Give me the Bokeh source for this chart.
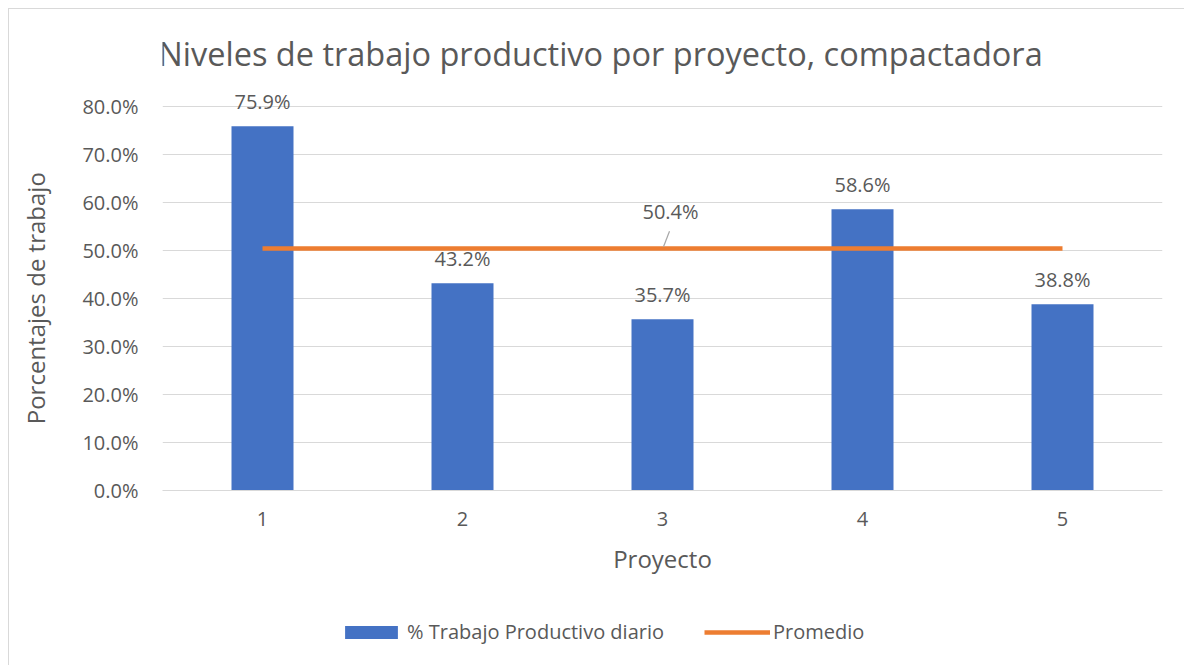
import math
from bokeh.plotting import figure
from bokeh.layouts import column, row
from bokeh.models import (Range1d, NumeralTickFormatter, FixedTicker, ColumnDataSource,
                          LabelSet, Label, Legend, LegendItem, Segment)
from bokeh.core.properties import value
from bokeh.embed import file_html
from bokeh.resources import INLINE

# ---- data ----
proyectos = [1, 2, 3, 4, 5]
tick_labels = ["1", "2", "3", "4", "5"]
trabajo_productivo = [0.759, 0.432, 0.357, 0.586, 0.388]
promedio = [0.504, 0.504, 0.504, 0.504, 0.504]
y_ticks = [0.0, 0.1, 0.2, 0.3, 0.4, 0.5, 0.6, 0.7, 0.8]

title_text = "Niveles de trabajo productivo por proyecto, compactadora"
x_label = "Proyecto"
y_label = "Porcentajes de trabajo"
legend_bar = "% Trabajo Productivo diario"
legend_line = "Promedio"

FONT = "Open Sans"
TXT = "#595959"
BLUE = "#4472C4"
ORANGE = "#ED7D31"
GRID = "#D9D9D9"

# whole block starts at page (9, 9) because of margin + border
TOTAL_W = 1175
LW = 60            # strip holding the y-axis title
W, H = TOTAL_W - LW, 591

# ---- y-axis title strip ----
yl = figure(width=LW, height=H, output_backend="svg", toolbar_location=None,
            x_range=Range1d(0, 1), y_range=Range1d(0, 1))
yl.min_border = 0
yl.axis.visible = False
yl.grid.visible = False
yl.outline_line_color = None
yl.border_fill_color = "white"
yl.add_layout(Label(x=0.433, y=0.511, y_offset=-53, text=y_label, angle=math.pi / 2,
                    text_align="center", text_baseline="middle",
                    text_font=FONT, text_font_size="24px", text_color=TXT))

# ---- main chart ----
p = figure(width=W, height=H, output_backend="svg", toolbar_location=None,
           x_range=Range1d(0.5, 5.5), y_range=Range1d(0, 1.0))
p.min_border_left = 162 - 9 - LW
p.min_border_top = 1
p.min_border_right = 22
p.min_border_bottom = H - 481
p.outline_line_color = None
p.background_fill_color = "white"
p.border_fill_color = "white"

src = ColumnDataSource(dict(x=proyectos, top=trabajo_productivo,
                            lbl=[f"{v*100:.1f}%" for v in trabajo_productivo]))
bars = p.vbar(x="x", top="top", width=0.31, bottom=0, source=src,
              fill_color=BLUE, line_color=None)
line = p.line(proyectos, promedio, line_color=ORANGE, line_width=4.5)

labels = LabelSet(x="x", y="top", text="lbl", source=src, y_offset=25,
                  text_align="center", text_baseline="middle",
                  text_font=value(FONT), text_font_size=value("20px"), text_color=TXT)
p.add_layout(labels)

# average data label with leader line
avg = promedio[2]
p.add_layout(Label(x=proyectos[2], y=avg, text=f"{avg*100:.1f}%", x_offset=8, y_offset=37,
                   text_align="center", text_baseline="middle",
                   text_font=FONT, text_font_size="20px", text_color=TXT))
lead_src = ColumnDataSource(dict(x0=[proyectos[2] + 0.005], y0=[avg + 0.004],
                                 x1=[proyectos[2] + 0.035], y1=[avg + 0.036]))
p.add_glyph(lead_src, Segment(x0="x0", y0="y0", x1="x1", y1="y1",
                              line_color="#A6A6A6", line_width=1.2))

# axes
p.xaxis.ticker = FixedTicker(ticks=proyectos)
p.xaxis.major_label_overrides = {i: t for i, t in zip(proyectos, tick_labels)}
p.yaxis.ticker = FixedTicker(ticks=y_ticks)
p.yaxis.formatter = NumeralTickFormatter(format="0.0%")
for ax in (p.xaxis, p.yaxis):
    ax.major_tick_line_color = None
    ax.minor_tick_line_color = None
    ax.major_tick_out = 0
    ax.major_tick_in = 0
    ax.minor_tick_out = 0
    ax.major_label_text_font = FONT
    ax.major_label_text_font_size = "20px"
    ax.major_label_text_color = TXT
    ax.axis_label_text_font = FONT
    ax.axis_label_text_font_size = "24px"
    ax.axis_label_text_font_style = "normal"
    ax.axis_label_text_color = TXT
p.yaxis.axis_line_color = None
p.xaxis.axis_line_color = GRID
p.xaxis.major_label_standoff = 21
p.yaxis.major_label_standoff = 24
p.xaxis.axis_label = x_label
p.xaxis.axis_label_standoff = 13
p.xgrid.grid_line_color = None
p.ygrid.grid_line_color = GRID
p.ygrid.ticker = FixedTicker(ticks=y_ticks)

# chart title (inside the extended frame)
p.add_layout(Label(x=2.69, y=0.91, text=title_text,
                   text_align="center", text_baseline="middle",
                   text_font=FONT, text_font_size="32.5px", text_color=TXT))

# ---- legend strip below the chart ----
LH = 65
lg = figure(width=TOTAL_W, height=LH, output_backend="svg", toolbar_location=None,
            x_range=Range1d(100, 101), y_range=Range1d(100, 101))
lg.min_border = 0
lg.axis.visible = False
lg.grid.visible = False
lg.outline_line_color = None
lg.border_fill_color = "white"
lbars = lg.vbar(x="x", top="top", width=0.31, bottom=0, source=src,
                fill_color=BLUE, line_color=None)
lline = lg.line(proyectos, promedio, line_color=ORANGE, line_width=4.5)
legend = Legend(items=[LegendItem(label=legend_bar, renderers=[lbars]),
                       LegendItem(label=legend_line, renderers=[lline])],
                location=(329, 20), orientation="horizontal",
                label_text_font=FONT, label_text_font_size="20px",
                label_text_color=TXT, border_line_color=None,
                background_fill_alpha=0, glyph_width=66, glyph_height=16,
                spacing=40, label_standoff=3, padding=0, margin=0)
lg.add_layout(legend, "center")

layout = column(row(yl, p, spacing=0), lg, spacing=0)
layout.styles = {"margin-left": "8px", "margin-top": "8px",
                 "border-left": "1px solid #d9d9d9", "border-top": "1px solid #d9d9d9"}

open("out.html", "w").write(file_html(layout, INLINE))
